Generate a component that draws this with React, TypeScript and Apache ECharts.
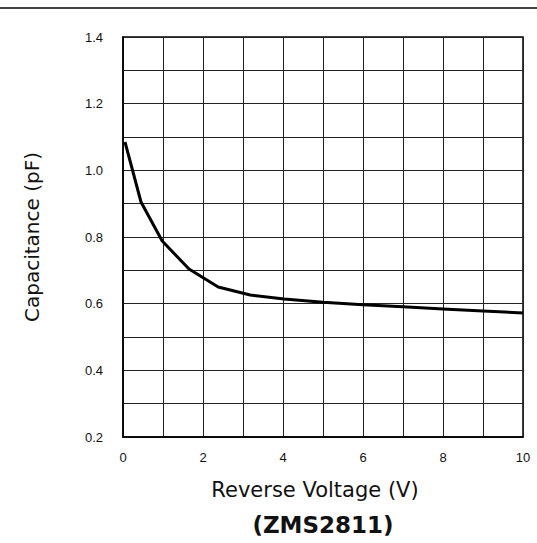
import React, { useEffect, useRef } from "react";
import * as echarts from "echarts";

const voltage = [0.05, 0.45, 0.98, 1.65, 2.38, 3.18, 4.03, 5.0, 6.0, 7.0, 8.0, 9.0, 10.0];
const capacitance = [1.085, 0.905, 0.788, 0.704, 0.65, 0.626, 0.614, 0.604, 0.597, 0.591, 0.584, 0.578, 0.572];
const xTicks = [0, 2, 4, 6, 8, 10];
const yTicks = ["0.2", "0.4", "0.6", "0.8", "1.0", "1.2", "1.4"];

const FONT = "'Liberation Sans', Arial, Helvetica, sans-serif";
const WIDE = "'DejaVu Sans', Verdana, sans-serif";

export default function App() {
  const ref = useRef<HTMLDivElement>(null);
  useEffect(() => {
    if (!ref.current) return;
    const chart = echarts.init(ref.current, undefined, { renderer: "svg" });
    chart.setOption({
      animation: false,
      backgroundColor: "#ffffff",
      grid: {
        left: 123,
        right: 14,
        top: 37,
        bottom: 106,
        containLabel: false,
        show: true,
        borderColor: "#000",
        borderWidth: 1.5,
        backgroundColor: "transparent",
      },
      graphic: [
        {
          type: "line",
          shape: { x1: 0, y1: 8, x2: 537, y2: 8 },
          style: { stroke: "#444", lineWidth: 2 },
        },
        {
          type: "text",
          x: 323,
          y: 525,
          style: {
            text: "(ZMS2811)",
            font: `bold 23px ${WIDE}`,
            fill: "#111",
            textAlign: "center",
            textVerticalAlign: "middle",
          },
        },
      ],
      xAxis: {
        type: "value",
        min: 0,
        max: 10,
        interval: 1,
        name: "Reverse Voltage (V)",
        nameLocation: "middle",
        nameGap: 42,
        nameTextStyle: {
          fontFamily: WIDE,
          fontSize: 21,
          color: "#111",
          padding: [0, 16, 0, 0],
        },
        axisLine: { show: true, lineStyle: { color: "#000", width: 1.5 } },
        axisTick: { show: false },
        axisLabel: {
          fontFamily: FONT,
          fontSize: 13,
          color: "#111",
          margin: 14,
          formatter: (v: number) => (xTicks.includes(v) ? String(v) : ""),
        },
        splitLine: { show: true, lineStyle: { color: "#222", width: 1 } },
      },
      yAxis: {
        type: "value",
        min: 0.2,
        max: 1.4,
        interval: 0.1,
        name: "Capacitance (pF)",
        nameLocation: "middle",
        nameGap: 81,
        nameRotate: 90,
        nameTextStyle: { fontFamily: WIDE, fontSize: 20, color: "#111" },
        axisLine: { show: true, lineStyle: { color: "#000", width: 1.5 } },
        axisTick: { show: false },
        axisLabel: {
          fontFamily: FONT,
          fontSize: 13,
          color: "#111",
          margin: 20,
          formatter: (v: number) => {
            const s = v.toFixed(1);
            return yTicks.includes(s) ? s : "";
          },
        },
        splitLine: { show: true, lineStyle: { color: "#222", width: 1 } },
      },
      series: [
        {
          type: "line",
          data: voltage.map((v, i) => [v, capacitance[i]]),
          smooth: false,
          symbol: "none",
          lineStyle: { color: "#000", width: 3, join: "round" },
        },
      ],
    });
    return () => chart.dispose();
  }, []);
  return (
    <div
      ref={ref}
      style={{ position: "fixed", left: 0, top: 0, width: 537, height: 543 }}
    />
  );
}
